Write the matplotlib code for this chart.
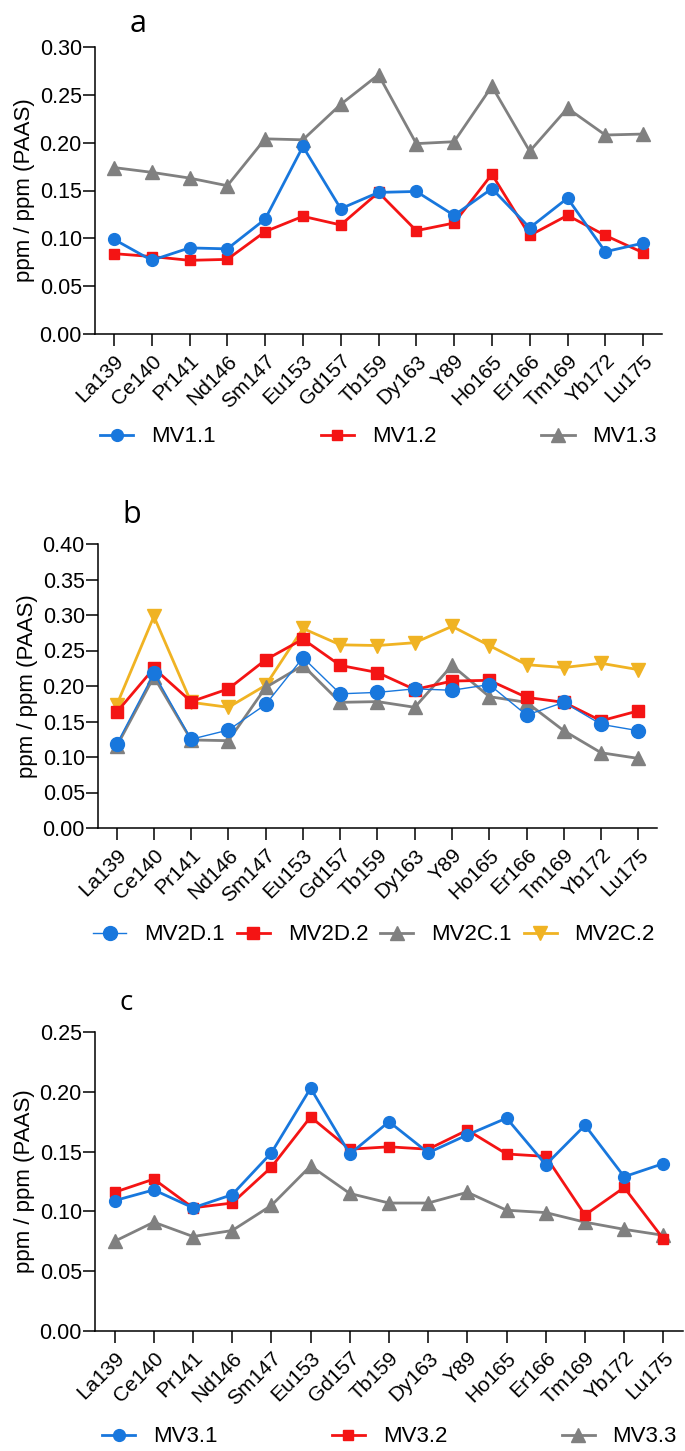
import matplotlib
matplotlib.use("Agg")
import matplotlib.pyplot as plt

plt.rcParams["font.family"] = ["Liberation Sans", "DejaVu Sans"]

elements = ["La139", "Ce140", "Pr141", "Nd146", "Sm147", "Eu153", "Gd157", "Tb159",
            "Dy163", "Y89", "Ho165", "Er166", "Tm169", "Yb172", "Lu175"]

# panel a
mv1_1 = [0.099, 0.077, 0.090, 0.089, 0.120, 0.196, 0.131, 0.148, 0.149, 0.124, 0.152, 0.111, 0.142, 0.086, 0.095]
mv1_2 = [0.084, 0.081, 0.077, 0.078, 0.107, 0.123, 0.114, 0.148, 0.108, 0.116, 0.167, 0.103, 0.124, 0.103, 0.085]
mv1_3 = [0.174, 0.169, 0.163, 0.155, 0.204, 0.203, 0.240, 0.271, 0.199, 0.201, 0.259, 0.191, 0.236, 0.208, 0.209]

# panel b
mv2d_1 = [0.118, 0.218, 0.125, 0.138, 0.174, 0.240, 0.189, 0.191, 0.196, 0.194, 0.202, 0.159, 0.177, 0.146, 0.137]
mv2d_2 = [0.163, 0.225, 0.178, 0.196, 0.237, 0.266, 0.229, 0.219, 0.195, 0.207, 0.208, 0.184, 0.177, 0.151, 0.165]
mv2c_1 = [0.115, 0.213, 0.124, 0.123, 0.198, 0.229, 0.177, 0.178, 0.170, 0.229, 0.185, 0.177, 0.137, 0.106, 0.098]
mv2c_2 = [0.173, 0.298, 0.177, 0.170, 0.201, 0.281, 0.258, 0.257, 0.261, 0.284, 0.257, 0.230, 0.226, 0.232, 0.223]

# panel c
mv3_1 = [0.109, 0.118, 0.103, 0.114, 0.149, 0.203, 0.148, 0.175, 0.149, 0.164, 0.178, 0.139, 0.172, 0.129, 0.140]
mv3_2 = [0.116, 0.127, 0.103, 0.107, 0.137, 0.179, 0.152, 0.154, 0.152, 0.168, 0.148, 0.146, 0.097, 0.120, 0.077]
mv3_3 = [0.075, 0.091, 0.079, 0.084, 0.105, 0.138, 0.115, 0.107, 0.107, 0.116, 0.101, 0.099, 0.091, 0.085, 0.080]

BLUE = "#1877dd"
RED = "#f41414"
GRAY = "#808080"
GOLD = "#f0b323"

W, H = 685, 1451


def px_axes(fig, left, top, right, bottom):
    return fig.add_axes([left / W, 1 - bottom / H, (right - left) / W, (bottom - top) / H])


def style_axes(ax, ymax, step):
    x = list(range(len(elements)))
    ax.set_xlim(-0.5, 14.5)
    ax.set_ylim(0, ymax)
    yt = [round(i * step, 2) for i in range(int(round(ymax / step)) + 1)]
    ax.set_yticks(yt)
    ax.set_yticklabels([f"{v:.2f}" for v in yt], fontsize=15.5)
    ax.set_xticks(x)
    ax.set_xticklabels(elements, rotation=45, ha="right", rotation_mode="anchor", fontsize=15)
    for s in ["top", "right"]:
        ax.spines[s].set_visible(False)
    for s in ["left", "bottom"]:
        ax.spines[s].set_linewidth(1.1)
    ax.tick_params(axis="both", direction="out", length=8.5, width=1.1, pad=1)
    ax.tick_params(axis="x", pad=4)
    ax.set_ylabel("ppm / ppm (PAAS)", fontsize=16, labelpad=3)


def add_legend(ax, fig, handles, labels, x0, x1, yc, ncol):
    ax.legend(handles, labels, ncol=ncol, mode="expand", frameon=False,
              bbox_to_anchor=(x0 / W, 1 - yc / H, (x1 - x0) / W, 0),
              bbox_transform=fig.transFigure, loc="center",
              fontsize=16, handlelength=1.5, handletextpad=0.8,
              borderpad=0, borderaxespad=0)


fig = plt.figure(figsize=(W / 100, H / 100), dpi=100)
x = list(range(len(elements)))

# a
ax = px_axes(fig, 95, 47, 662, 334)
ax.plot(x, mv1_3, color=GRAY, lw=2, marker="^", ms=9.5, label="MV1.3", zorder=2)
ax.plot(x, mv1_2, color=RED, lw=2, marker="s", ms=7.5, label="MV1.2", zorder=3)
ax.plot(x, mv1_1, color=BLUE, lw=2, marker="o", ms=8.5, label="MV1.1", zorder=4)
style_axes(ax, 0.30, 0.05)
h, l = ax.get_legend_handles_labels()
add_legend(ax, fig, h[::-1], l[::-1], 100, 657, 437, 3)
fig.text(138 / W, 1 - 32 / H, "a", fontsize=22, ha="center", va="baseline",
         family=["Open Sans", "DejaVu Sans"])

# b
ax = px_axes(fig, 98, 544, 657, 828)
ax.plot(x, mv2c_2, color=GOLD, lw=2, marker="v", ms=10, label="MV2C.2", zorder=2)
ax.plot(x, mv2c_1, color=GRAY, lw=2, marker="^", ms=10, label="MV2C.1", zorder=3)
ax.plot(x, mv2d_2, color=RED, lw=2, marker="s", ms=8.5, label="MV2D.2", zorder=4)
ax.plot(x, mv2d_1, color=BLUE, lw=1, marker="o", ms=10, label="MV2D.1", zorder=5)
style_axes(ax, 0.40, 0.05)
h, l = ax.get_legend_handles_labels()
add_legend(ax, fig, h[::-1], l[::-1], 93, 655, 935, 4)
fig.text(132 / W, 1 - 523 / H, "b", fontsize=22, ha="center", va="baseline",
         family=["Open Sans", "DejaVu Sans"])

# c
ax = px_axes(fig, 95, 1032, 683, 1331)
ax.plot(x, mv3_3, color=GRAY, lw=2, marker="^", ms=9.5, label="MV3.3", zorder=2)
ax.plot(x, mv3_2, color=RED, lw=2, marker="s", ms=7.5, label="MV3.2", zorder=3)
ax.plot(x, mv3_1, color=BLUE, lw=2, marker="o", ms=8.5, label="MV3.1", zorder=4)
style_axes(ax, 0.25, 0.05)
h, l = ax.get_legend_handles_labels()
add_legend(ax, fig, h[::-1], l[::-1], 102, 677, 1437, 3)
fig.text(126 / W, 1 - 1010 / H, "c", fontsize=20, ha="center", va="baseline",
         family=["Open Sans", "DejaVu Sans"])

fig.savefig("out.png", dpi=100)
plt.close(fig)
